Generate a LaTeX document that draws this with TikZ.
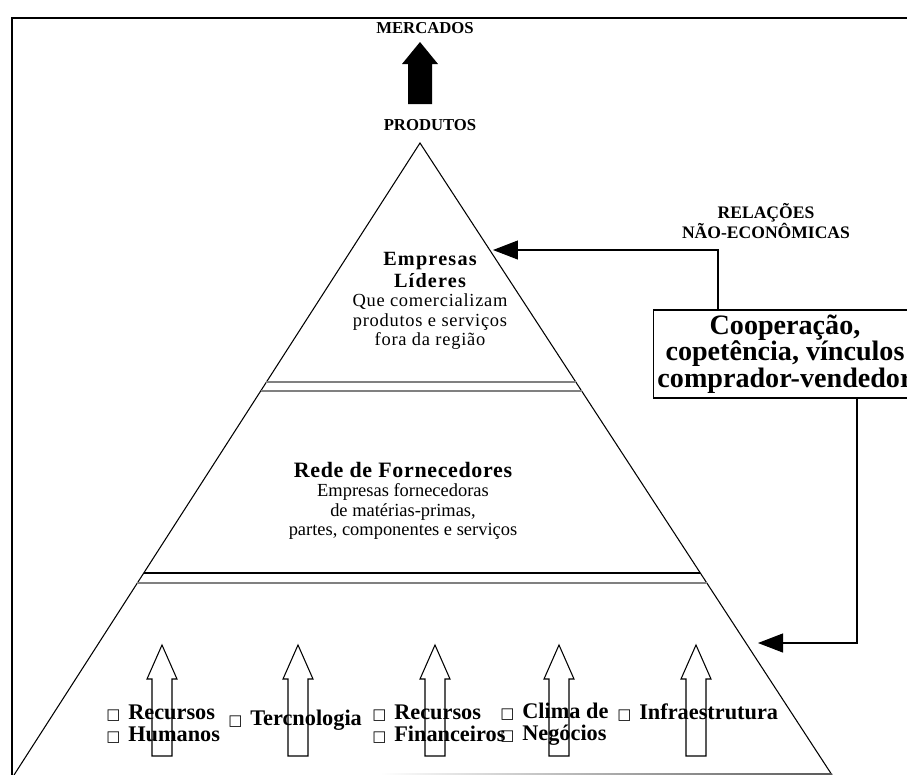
\documentclass[tikz,border=0pt]{standalone}
\usepackage{fontspec}
\setmainfont{Liberation Serif}
\newfontfamily\symfont{DejaVu Sans}
\usetikzlibrary{calc}
\usetikzlibrary{arrows.meta}
\usetikzlibrary{positioning}
\newcommand{\bx}{{\symfont\fontsize{8.5}{8.5}\selectfont □}\hspace{0.35em}}
\tikzset{
 caps/.style={font=\bfseries\fontsize{9.5}{10.5}\selectfont, align=center, inner sep=0pt},
 head/.style={font=\bfseries\fontsize{11.5}{13}\selectfont\addfontfeature{LetterSpace=6}, align=center, inner sep=0pt},
 sub/.style={font=\fontsize{10.5}{11}\selectfont, align=center, inner sep=0pt},
 blt/.style={font=\bfseries\fontsize{12.7}{12.6}\selectfont, align=left, inner sep=0pt, anchor=west},
 coopbox/.style={draw, semithick, fill=white, font=\bfseries\fontsize{16}{15}\selectfont, align=center,
   minimum width=5.28cm, minimum height=1.76cm, inner sep=0pt},
 conn/.style={semithick, -{Triangle[length=0.5cm,width=0.38cm]}}
}
\begin{document}
\begin{tikzpicture}[x=0.02cm, y=-0.02cm]
\useasboundingbox (0,0) rectangle (907,775);
\clip (0,0) rectangle (907,775);
\draw[line width=1.2pt] (12,18) rectangle (940,800);
\node[caps] (merc) at (425,28) {MERCADOS};
\fill (408,104) -- (408,64) -- (402,64) -- (420,42) -- (438,64) -- (432,64) -- (432,104) -- cycle;
\node[caps] (prod) at (430,125) {PRODUTOS};
\coordinate (apex) at (420,143);
\coordinate (bl) at (14,775);
\coordinate (br) at (832,775);
\draw[semithick] (bl) -- (apex) -- (br);
\shade[left color=white, right color=black!65] (380,773) rectangle (832,775.5);
\foreach \y/\c in {382/gray, 391/gray, 573/black, 583/gray} {
 \draw[\c, semithick] ($(apex)!{(\y-143)/632}!(bl)$) -- ($(apex)!{(\y-143)/632}!(br)$);
}
\node[head] (lidhd) at (430,270) {Empresas\\Líderes};
\node[sub, below=3pt of lidhd, font=\fontsize{10.5}{11}\selectfont\addfontfeature{LetterSpace=4}] (lidtx) {Que comercializam\\produtos e serviços\\fora da região};
\node[head, font=\bfseries\fontsize{12.5}{14}\selectfont\addfontfeature{LetterSpace=3}] (redhd) at (403,470) {Rede de Fornecedores};
\node[sub, below=3pt of redhd] (redtx) {Empresas fornecedoras\\de matérias-primas,\\partes, componentes e serviços};
\node[caps, font=\bfseries\fontsize{10}{10.5}\selectfont] (rel) at (766,221) {RELAÇÕES\\NÃO-ECONÔMICAS};
\node[coopbox] (coop) at (785,354) {Cooperação,\\copetência, vínculos\\comprador-vendedor};
\coordinate (lidin) at (493,250);
\coordinate (basein) at (758,643);
\draw[conn] ([xshift=-1.34cm]coop.north) |- (lidin);
\draw[conn] ([xshift=1.44cm]coop.south) |- (basein);
\node[blt] (rh) at (106,724) {\bx Recursos\\\bx Humanos};
\node[blt] (tec) at (228,720) {\bx Tercnologia};
\node[blt] (rf) at (372,724) {\bx Recursos\\\bx Financeiros};
\node[blt] (clim) at (500,724) {\bx Clima de\\\bx Negócios};
\node[blt] (infra) at (617,713) {\bx Infraestrutura};
\foreach \x in {162, 298, 435, 559, 696} {
 \draw[semithick] (\x-10,756) -- (\x-10,679) -- (\x-15,679) -- (\x,645) -- (\x+15,679) -- (\x+10,679) -- (\x+10,756) -- cycle;
}
\end{tikzpicture}
\end{document}
